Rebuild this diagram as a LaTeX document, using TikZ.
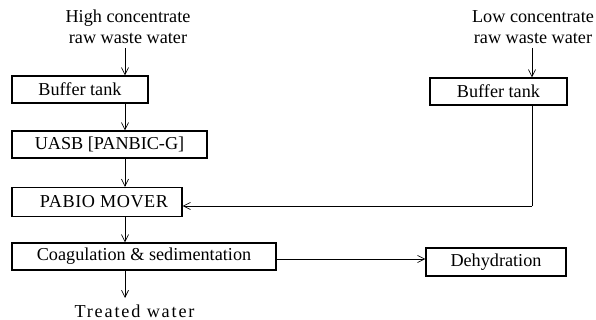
\documentclass[tikz,border=0pt]{standalone}
\usepackage{fontspec}
\setmainfont{Liberation Serif}
\usetikzlibrary{arrows.meta}
\begin{document}
\begin{tikzpicture}[x=1pt,y=-1pt,
  font=\fontsize{18.2}{20}\selectfont,
  box/.style={draw, line width=1.3pt, inner sep=0pt, minimum height=27pt},
  lbl/.style={inner sep=0pt, align=center, font=\fontsize{18.2}{20.5}\selectfont},
  arr/.style={line width=0.7pt, -{Straight Barb[length=7pt,width=7pt]}},
  ln/.style={line width=0.7pt}]
\useasboundingbox (0,0) rectangle (596,320);
\node[lbl] (hc) at (128,27) {High concentrate\\raw waste water};
\node[box, minimum width=136pt] (b1) at (80,89.5) {Buffer tank};
\node[box, minimum width=195pt] (uasb) at (109.5,144.5) {UASB [PANBIC-G]};
\node[box, minimum width=170pt, minimum height=29pt] (pab) at (97,202) {\hspace*{14pt}\addfontfeatures{LetterSpace=3}PABIO MOVER};
\node[box, minimum width=264pt] (coag) at (144,256.5) {Coagulation \& sedimentation};
\node[lbl] (tw) at (134.5,311) {\addfontfeatures{LetterSpace=10}Treated water};
\node[lbl] (lc) at (533,27) {Low concentrate\\raw waste water};
\node[box, minimum width=137pt] (b2) at (498.5,91.5) {Buffer tank};
\node[box, minimum width=140pt, minimum height=28pt] (deh) at (496,262) {Dehydration};
\coordinate (c1) at (125,48);
\coordinate (c2) at (532,48);
\coordinate (c3) at (532,206);
\coordinate (c4) at (125,298);
\draw[arr] (c1) -- (c1 |- b1.north);
\draw[arr] (c1 |- b1.south) -- (c1 |- uasb.north);
\draw[arr] (c1 |- uasb.south) -- (c1 |- pab.north);
\draw[arr] (c1 |- pab.south) -- (c1 |- coag.north);
\draw[arr] (c1 |- coag.south) -- (c4);
\draw[arr] (c2) -- (c2 |- b2.north);
\draw[ln] (c2 |- b2.south) -- (c3);
\draw[arr] (c3) -- (c3 -| pab.east);
\draw[arr] (coag.east |- 0,259) -- (deh.west |- 0,259);
\end{tikzpicture}
\end{document}
